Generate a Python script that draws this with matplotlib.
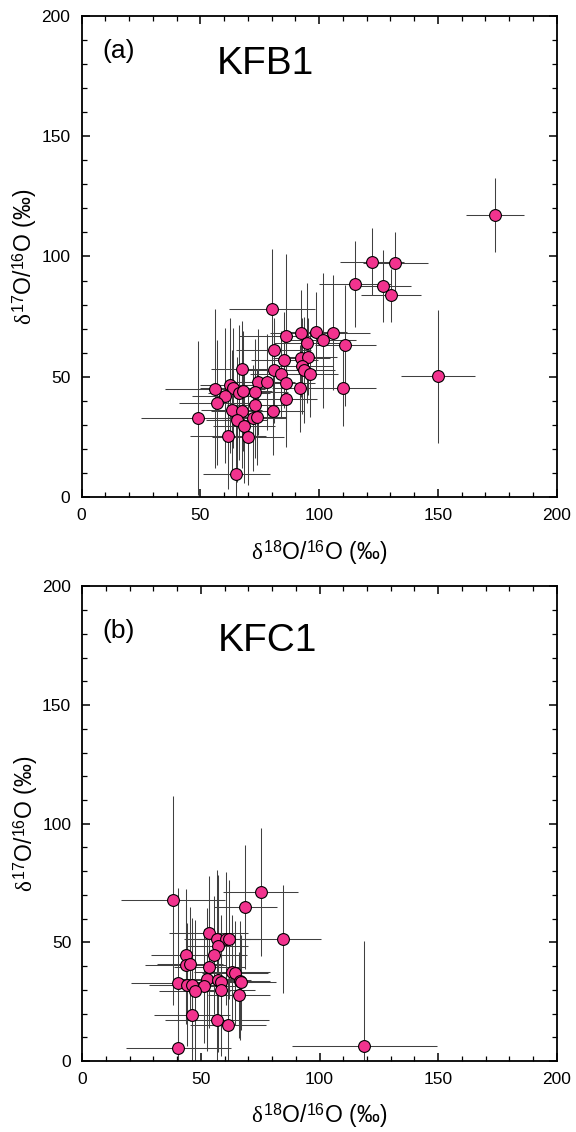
import matplotlib
matplotlib.use('Agg')
import matplotlib.pyplot as plt
from matplotlib.ticker import MultipleLocator

plt.rcParams['font.family'] = 'Liberation Sans'
plt.rcParams['mathtext.fontset'] = 'custom'
plt.rcParams['mathtext.rm'] = 'Liberation Sans'
plt.rcParams['mathtext.it'] = 'Liberation Serif'
plt.rcParams['mathtext.bf'] = 'Liberation Sans:bold'

# panel (a) KFB1: d18O, d17O and their 1-sigma errors (permil)
kfb1_d18 = [115.2, 126.9, 130.3, 80.3, 86.1, 92.5, 98.7, 105.9, 95.1, 101.6,
            111.1, 80.9, 85.4, 92.5, 95.5, 93.0, 93.6, 96.2, 81.2, 84.1,
            67.6, 86.2, 74.4, 78.0, 92.1, 110.1, 56.3, 62.7, 63.8, 66.2,
            68.1, 73.1, 60.5, 86.0, 57.2, 73.2, 63.2, 67.5, 80.5, 49.2,
            65.3, 72.1, 73.9, 68.5, 61.7, 70.1, 65.2, 174.2, 122.3, 132.1,
            150.2]
kfb1_d17 = [88.5, 87.7, 83.8, 78.0, 67.0, 68.1, 68.7, 68.3, 63.9, 65.1,
            63.0, 61.2, 56.9, 57.6, 58.3, 54.3, 52.7, 51.2, 52.6, 51.2,
            53.1, 47.5, 47.8, 47.8, 45.2, 45.3, 45.0, 46.4, 45.2, 43.3,
            44.1, 43.5, 42.1, 40.9, 39.1, 38.4, 36.2, 35.9, 35.6, 32.7,
            32.1, 32.7, 33.1, 29.6, 25.4, 25.0, 9.5, 117.2, 97.9, 97.1,
            50.2]
kfb1_d18_err = [15, 12, 12.7, 18, 20, 13, 13, 15.6, 14, 14,
                13, 15.7, 14, 12, 12, 13, 13, 12, 14, 13,
                13, 12, 14, 12, 12, 14, 21, 13, 14, 13,
                12, 14, 14, 13, 16, 12, 13, 13, 13, 24,
                13, 14, 12, 13, 16, 15, 14, 12.2, 13.5, 13.7,
                15.6]
kfb1_d17_err = [18, 15, 11, 25, 34, 18, 16.5, 24, 25, 28,
                25, 12, 20, 16, 16, 20, 22, 18, 22, 18,
                20, 20, 22, 20, 18, 16, 33, 28, 25, 28,
                25, 22, 28, 20, 26, 22, 25, 24, 18, 32,
                26, 22, 20, 24, 22, 20, 20, 15.5, 14, 13,
                27.6]

# panel (b) KFC1
kfc1_d18 = [38.3, 75.2, 68.7, 84.6, 53.3, 56.7, 60.5, 61.8, 57.0, 55.4,
            43.9, 43.6, 45.4, 53.6, 63.0, 64.3, 52.6, 57.2, 58.5, 66.3,
            66.8, 40.4, 44.0, 46.2, 51.3, 47.4, 58.6, 66.1, 46.1, 56.7,
            61.6, 40.5, 118.9]
kfc1_d17 = [67.8, 71.3, 64.9, 51.3, 53.8, 51.3, 51.5, 51.3, 48.5, 44.7,
            44.5, 40.6, 40.7, 39.8, 37.5, 37.0, 34.4, 34.0, 33.5, 33.8,
            33.2, 32.8, 32.2, 32.2, 31.7, 29.6, 30.0, 27.8, 19.4, 17.3,
            15.0, 5.6, 6.4]
kfc1_d18_err = [22, 15.7, 13.4, 16, 16.7, 14, 14, 13, 13, 14,
                15, 17, 14, 15, 16, 14, 14, 14, 13, 13,
                15, 20, 16, 14, 13, 15, 14, 13, 16, 22,
                16, 22, 30.4]
kfc1_d17_err = [44, 27, 26, 22.8, 24, 29, 28, 25, 30, 25,
                28, 25, 24, 26, 24, 22, 30, 30, 28, 25,
                20, 40, 26, 28, 24, 30, 28, 18, 25, 22,
                20, 15, 44]

pink = '#F2338E'
xlab = r'$\delta^{18}$O/$^{16}$O (‰)'
ylab = r'$\delta^{17}$O/$^{16}$O (‰)'


def panel(ax, x, y, xe, ye, tag, name, ty_tag, ty_name):
    ax.errorbar(x, y, xerr=xe, yerr=ye, fmt='none', ecolor='0.25',
                elinewidth=0.75, capsize=0, zorder=2)
    ax.plot(x, y, 'o', ms=8.5, mfc=pink, mec='black', mew=0.8, zorder=3)
    ax.set_xlim(0, 200)
    ax.set_ylim(0, 200)
    ax.xaxis.set_major_locator(MultipleLocator(50))
    ax.yaxis.set_major_locator(MultipleLocator(50))
    ax.xaxis.set_minor_locator(MultipleLocator(10))
    ax.yaxis.set_minor_locator(MultipleLocator(10))
    ax.tick_params(which='both', direction='in', top=True, right=True,
                   labelsize=12.5, pad=8)
    ax.tick_params(which='major', length=6, width=1.1)
    ax.tick_params(which='minor', length=3.5, width=0.9)
    for s in ax.spines.values():
        s.set_linewidth(1.3)
    ax.set_xlabel(xlab, fontsize=16.5)
    ax.set_ylabel(ylab, fontsize=16.5)
    ax.xaxis.set_label_coords(0.5, -0.085)
    ax.yaxis.set_label_coords(-0.09, 0.5)
    ax.text(0.043, ty_tag, tag, transform=ax.transAxes, fontsize=19,
            ha='left', va='center')
    ax.text(0.285, ty_name, name, transform=ax.transAxes, fontsize=28,
            ha='left', va='center')


fig = plt.figure(figsize=(5.76, 11.32), dpi=100)
ax1 = fig.add_axes([0.1415, 0.561, 0.8247, 0.4249])
ax2 = fig.add_axes([0.1429, 0.0627, 0.8238, 0.4193])

panel(ax1, kfb1_d18, kfb1_d17, kfb1_d18_err, kfb1_d17_err,
      '(a)', 'KFB1', 0.928, 0.9)
panel(ax2, kfc1_d18, kfc1_d17, kfc1_d18_err, kfc1_d17_err,
      '(b)', 'KFC1', 0.905, 0.885)

fig.savefig('out.png', dpi=100)
